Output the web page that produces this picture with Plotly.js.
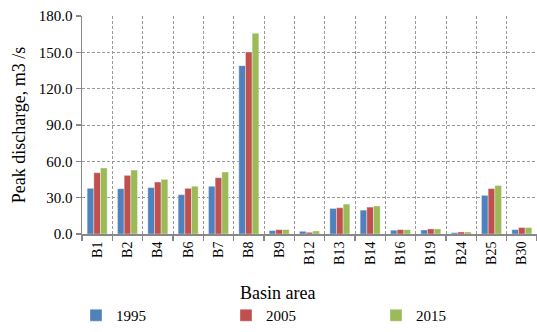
<!DOCTYPE html>
<html>
<head>
<meta charset="utf-8">
<script src="https://cdn.plot.ly/plotly-3.0.1.min.js"></script>
<style>html,body{margin:0;padding:0;background:#fff;}#chart{width:537px;height:332px;}</style>
</head>
<body>
<div id="chart"></div>
<script>
var categories = ["B1","B2","B4","B6","B7","B8","B9","B12","B13","B14","B16","B19","B24","B25","B30"];
var seriesNames = ["1995","2005","2015"];
var values1995 = [37.7, 37.4, 38.3, 32.5, 39.4, 139.0, 2.8, 2.2, 21.1, 19.7, 3.1, 3.3, 1.1, 31.9, 3.6];
var values2005 = [50.6, 48.4, 42.9, 37.7, 46.5, 150.3, 3.6, 1.4, 21.7, 22.2, 3.6, 4.2, 1.7, 37.5, 5.3];
var values2015 = [54.5, 52.8, 45.1, 39.4, 51.2, 165.7, 3.6, 2.5, 24.7, 23.1, 3.6, 4.2, 1.7, 40.0, 5.3];
var colors = ["#4F81BD", "#C0504D", "#9BBB59"];
var yTickVals = [0, 30, 60, 90, 120, 150, 180];

var font = "Liberation Serif";
var allValues = [values1995, values2005, values2015];
var traces = allValues.map(function(v, i) {
  return {
    type: "bar",
    name: seriesNames[i],
    x: categories,
    y: v,
    marker: {color: colors[i], line: {color: "rgba(255,255,255,0.6)", width: 0.6}}
  };
});

var layout = {
  width: 537, height: 332,
  margin: {l: 82, r: 0, t: 16, b: 98},
  paper_bgcolor: "#fff", plot_bgcolor: "#fff",
  font: {family: font, color: "#000", size: 14},
  barmode: "group",
  bargap: 0.34,
  bargroupgap: 0,
  showlegend: true,
  legend: {
    orientation: "h",
    xref: "container", yref: "container",
    x: 0.1415, xanchor: "left",
    y: -0.02, yanchor: "bottom",
    entrywidth: 105,
    font: {family: font, size: 15, color: "#000"},
    itemwidth: 30,
    bgcolor: "rgba(0,0,0,0)"
  },
  xaxis: {
    type: "category",
    tickson: "boundaries",
    tickangle: -90,
    ticks: "outside", ticklen: 5, tickcolor: "#888", tickwidth: 1.5,
    showline: true, linecolor: "#888", linewidth: 2,
    showgrid: true, gridcolor: "#999", griddash: "3px,2px", gridwidth: 1,
    tickfont: {family: font, size: 14, color: "#000"},
    automargin: false
  },
  yaxis: {
    range: [0, 180],
    tickvals: yTickVals,
    tickformat: ".1f",
    ticks: "outside", ticklen: 5, tickcolor: "#888", tickwidth: 1.5,
    showline: true, linecolor: "#888", linewidth: 1.5,
    showgrid: true, gridcolor: "#999", griddash: "3px,2px", gridwidth: 1,
    zeroline: false,
    tickfont: {family: font, size: 15, color: "#000"},
    title: {text: "Peak discharge, m3 /s", font: {family: font, size: 18, color: "#000"}, standoff: 8},
    automargin: false
  },
  annotations: [{
    text: "Basin area",
    xref: "paper", yref: "paper",
    x: 0.43, y: -0.215, xanchor: "center", yanchor: "top",
    showarrow: false,
    font: {family: font, size: 18, color: "#000"}
  }]
};

Plotly.newPlot("chart", traces, layout, {displayModeBar: false, staticPlot: true});
</script>
</body>
</html>
